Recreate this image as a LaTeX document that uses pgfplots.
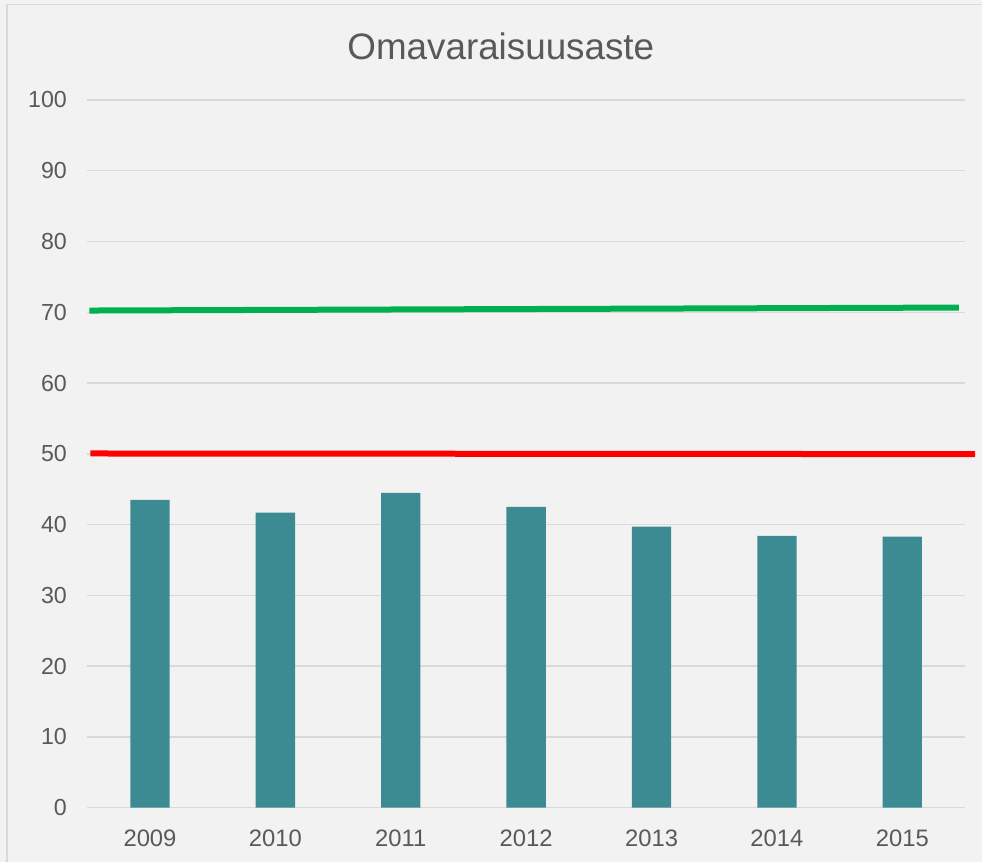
\documentclass[border=0pt]{standalone}
\usepackage{pgfplots}
\pgfplotsset{compat=1.18}
\usepackage{fontspec}
\setmainfont{Liberation Sans}
\definecolor{bg}{HTML}{F2F2F2}
\definecolor{gridc}{HTML}{D9D9D9}
\definecolor{txt}{HTML}{595959}
\definecolor{barc}{HTML}{3D8B92}
\definecolor{grn}{HTML}{00B050}
\definecolor{rd}{HTML}{FF0000}
\begin{document}
\begin{tikzpicture}
\useasboundingbox (0,0) rectangle (491pt,431pt);
\fill[bg] (0,0) rectangle (491pt,431pt);
\draw[gridc, line width=0.8pt] (3.5pt,-10pt) -- (3.5pt,428.8pt) -- (600pt,428.8pt);
\node[anchor=base, text=txt, font=\fontsize{18.4pt}{20pt}\selectfont] at (250.4pt,401.4pt) {Omavaraisuusaste};
\begin{axis}[
  at={(43.65pt,27.15pt)}, anchor=south west,
  scale only axis, width=438.85pt, height=353.85pt,
  xmin=-0.5, xmax=6.5, ymin=0, ymax=100,
  xtick={0,1,2,3,4,5,6},
  xticklabels={2009,2010,2011,2012,2013,2014,2015},
  ytick={0,10,...,100},
  ymajorgrids, grid style={gridc, line width=0.7pt},
  axis line style={draw=none},
  tick style={draw=none},
  major tick length=0pt,
  clip=false,
  /pgf/number format/assume math mode=true,
  ticklabel style={text=txt},
  yticklabel style={font=\fontsize{11.6pt}{13pt}\selectfont, anchor=east, xshift=-6.7pt},
  xticklabel style={font=\fontsize{11.9pt}{13pt}\selectfont, anchor=north, yshift=-7.6pt},
]
\addplot[ybar, bar width=19.65pt, fill=barc, draw=none] coordinates {
 (0,43.5) (1,41.7) (2,44.5) (3,42.5) (4,39.7) (5,38.4) (6,38.3)};
\addplot[grn, line width=3pt, no marks] coordinates {(-0.484,70.25) (6.452,70.67)};
\addplot[rd, line width=3pt, no marks] coordinates {(-0.476,50.05) (6.58,49.96)};
\end{axis}
\end{tikzpicture}
\end{document}
